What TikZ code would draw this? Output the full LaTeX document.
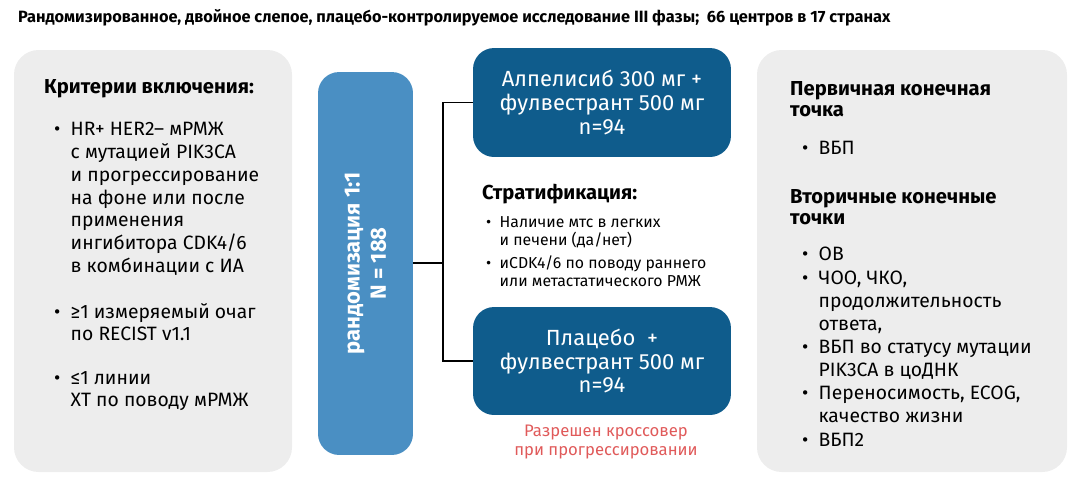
\documentclass[tikz,border=0pt]{standalone}
\usepackage{fontspec}
\setmainfont{Fira Sans}
\usetikzlibrary{positioning}
\definecolor{panelgray}{HTML}{EDEDED}
\definecolor{randblue}{HTML}{4A8FC3}
\definecolor{armblue}{HTML}{0F5C8C}
\definecolor{crossred}{HTML}{E05A5A}
\tikzset{
  panel/.style={fill=panelgray,rounded corners=14pt,draw=none},
  arm/.style={fill=armblue,rounded corners=12pt,text=white,align=center,font=\fontsize{12.5}{13.5}\selectfont},
  hdr/.style={font=\bfseries\fontsize{11.5}{12}\selectfont,anchor=north west,align=left},
  txt/.style={font=\fontsize{11}{13}\selectfont,anchor=north west,align=left},
  small/.style={font=\fontsize{9}{10.2}\selectfont,anchor=north west,align=left},
}
\begin{document}
\begin{tikzpicture}[x=0.02cm,y=-0.02cm]
\useasboundingbox (0,0) rectangle (1080,477);
\node[font=\bfseries\fontsize{9.3}{11}\selectfont,anchor=west] (title) at (12,18) {Рандомизированное, двойное слепое, плацебо-контролируемое исследование III фазы;\ \ 66 центров в 17 странах};
% left panel
\fill[panel] (14,50) rectangle (292,472);
\node[hdr] (incl) at (38,73) {Критерии включения:};
\node[txt] (inc1) at (48,116) {•\ \ \parbox[t]{200pt}{HR+ HER2– мРМЖ\\с мутацией PIK3CA\\и прогрессирование\\на фоне или после\\применения\\ингибитора CDK4/6\\в комбинации с ИА}};
\node[txt] (inc2) at (48,297) {•\ \ \parbox[t]{200pt}{≥1 измеряемый очаг\\по RECIST v1.1}};
\node[txt] (inc3) at (48,365) {•\ \ \parbox[t]{200pt}{≤1 линии\\ХТ по поводу мРМЖ}};
% randomization
\node[fill=randblue,rounded corners=12pt,minimum width=1.9cm,minimum height=7.66cm] (rand) at (365.5,263.5) {};
\node[rotate=90,text=white,font=\bfseries\fontsize{12.5}{15}\selectfont,align=center] (randtxt) at (rand.center) {рандомизация 1:1\\N = 188};
% arms
\node[arm,minimum width=5.16cm,minimum height=2.18cm] (armA) at (602,102.5) {Алпелисиб 300 мг +\\фулвестрант 500 мг\\n=94};
\node[arm,minimum width=5.16cm,minimum height=2.16cm] (armB) at (602,361) {Плацебо\ \ +\\фулвестрант 500 мг\\n=94};
\coordinate (split) at (443,263);
\draw[line width=0.8pt] (rand.east |- split) -- (split);
\draw[line width=0.8pt] (armA.west) -| (split) |- (armB.west);
% stratification
\node[hdr] (strat) at (476,178) {Стратификация:};
\node[small] (str1) at (480,210) {•\ \ \parbox[t]{190pt}{Наличие мтс в легких\\и печени (да/нет)}};
\node[small] (str2) at (480,250) {•\ \ \parbox[t]{190pt}{иCDK4/6 по поводу раннего\\или метастатического РМЖ}};
\node[text=crossred,align=center,font=\fontsize{9.5}{10.5}\selectfont] (cross) at (606,442) {Разрешен кроссовер\\при прогрессировании};
% right panel
\fill[panel] (757,50) rectangle (1067,472);
\node[hdr] (prim) at (784,75) {Первичная конечная\\точка};
\node[txt] (pr1) at (796,135) {•\ \ ВБП};
\node[hdr] (sec) at (784,183) {Вторичные конечные\\точки};
\node[txt] (se1) at (796,241) {•\ \ ОВ};
\node[txt] (se2) at (796,265) {•\ \ \parbox[t]{230pt}{ЧОО, ЧКО,\\продолжительность\\ответа,}};
\node[txt] (se3) at (796,334) {•\ \ \parbox[t]{230pt}{ВБП во статусу мутации\\PIK3CA в цоДНК}};
\node[txt] (se4) at (796,380) {•\ \ \parbox[t]{230pt}{Переносимость, ECOG,\\качество жизни}};
\node[txt] (se5) at (796,427) {•\ \ ВБП2};
\end{tikzpicture}
\end{document}
